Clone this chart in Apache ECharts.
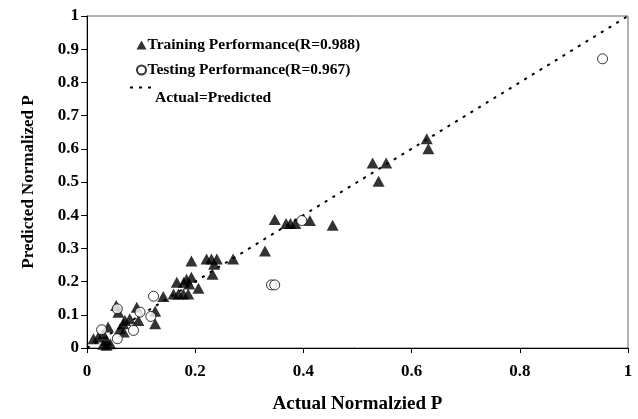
<!DOCTYPE html>
<html>
<head>
<meta charset="utf-8">
<script src="https://cdn.jsdelivr.net/npm/echarts@6/dist/echarts.min.js"></script>
<style>
  html, body { margin: 0; padding: 0; background: #fff; }
  #chart { width: 638px; height: 419px; }
</style>
</head>
<body>
<div id="chart"></div>
<script>
// 训练集 [actual, predicted]
const trainingData = [
  [0.628, 0.630], [0.631, 0.600], [0.553, 0.557], [0.528, 0.557], [0.539, 0.502],
  [0.347, 0.387], [0.368, 0.375], [0.376, 0.375], [0.385, 0.375], [0.412, 0.384],
  [0.454, 0.370], [0.329, 0.292],
  [0.270, 0.268], [0.221, 0.268], [0.230, 0.268], [0.240, 0.268], [0.235, 0.252],
  [0.232, 0.222], [0.193, 0.262], [0.206, 0.180],
  [0.193, 0.213], [0.184, 0.207], [0.179, 0.198], [0.189, 0.193], [0.166, 0.198],
  [0.160, 0.163], [0.169, 0.163], [0.178, 0.163], [0.187, 0.163], [0.141, 0.155],
  [0.126, 0.111], [0.126, 0.073], [0.095, 0.083], [0.092, 0.123], [0.079, 0.088],
  [0.070, 0.083], [0.067, 0.073], [0.058, 0.108], [0.054, 0.128], [0.068, 0.048],
  [0.061, 0.058], [0.039, 0.063],
  [0.030, 0.043], [0.021, 0.033], [0.036, 0.023], [0.043, 0.013], [0.036, 0.008],
  [0.030, 0.011], [0.012, 0.028]
];
// 测试集
const testingData = [
  [0.953, 0.871], [0.397, 0.384], [0.341, 0.190], [0.347, 0.190], [0.123, 0.156],
  [0.118, 0.095], [0.098, 0.108], [0.086, 0.053], [0.056, 0.118], [0.056, 0.028],
  [0.027, 0.055]
];
// y = x 参考线
const idealLine = [[0, 0], [1, 1]];
const seriesNames = ['Training Performance(R=0.988)', 'Testing Performance(R=0.967)', 'Actual=Predicted'];

const font = 'Liberation Serif, "Times New Roman", serif';
const legendText = { color: '#000', fontSize: 15.5, fontWeight: 'bold', fontFamily: font };
const charts = echarts.init(document.getElementById('chart'));
const option = {
  animation: false,
  grid: {
    left: 87,
    right: 10,
    top: 16,
    bottom: 68,
    show: true,
    borderColor: '#666',
    borderWidth: 1
  },
  legend: [
    {
      data: [
        { name: seriesNames[0], icon: 'triangle' },
        { name: seriesNames[1], icon: 'circle' }
      ],
      orient: 'vertical',
      left: 131,
      top: 32,
      itemWidth: 10,
      itemHeight: 9,
      itemGap: 9,
      textStyle: Object.assign({ padding: [0, 0, 0, -4] }, legendText)
    },
    {
      // 虚线图例: 线在上, 文字偏下
      data: [{ name: seriesNames[2], itemStyle: { opacity: 0 } }],
      left: 124,
      top: 77,
      itemWidth: 26,
      itemHeight: 14,
      formatter: '{a|{name}}',
      textStyle: {
        rich: { a: Object.assign({ padding: [20, 0, 0, -6] }, legendText) }
      }
    }
  ],
  xAxis: {
    type: 'value',
    min: 0,
    max: 1,
    interval: 0.2,
    name: 'Actual Normalzied P',
    nameLocation: 'middle',
    nameGap: 47,
    nameTextStyle: { color: '#000', fontSize: 19, fontWeight: 'bold', fontFamily: font },
    axisLine: { lineStyle: { color: '#000' } },
    axisTick: { show: true, length: 5, lineStyle: { color: '#000' } },
    axisLabel: { color: '#000', fontSize: 17, fontWeight: 'bold', fontFamily: font, margin: 15 },
    splitLine: { show: false }
  },
  yAxis: {
    type: 'value',
    min: 0,
    max: 1,
    interval: 0.1,
    name: 'Predicted Normalized P',
    nameLocation: 'middle',
    nameGap: 50,
    nameTextStyle: { color: '#000', fontSize: 17, fontWeight: 'bold', fontFamily: font },
    axisLine: { lineStyle: { color: '#000' } },
    axisTick: { show: true, length: 6, lineStyle: { color: '#000' } },
    axisLabel: { color: '#000', fontSize: 17, fontWeight: 'bold', fontFamily: font, margin: 8 },
    splitLine: { show: false }
  },
  series: [
    {
      name: seriesNames[2],
      type: 'line',
      data: idealLine,
      symbol: 'none',
      lineStyle: { color: '#000', width: 2, type: [3, 6] },
      itemStyle: { color: '#000' },
      z: 1
    },
    {
      name: seriesNames[0],
      type: 'scatter',
      data: trainingData,
      symbol: 'triangle',
      symbolSize: [12, 11],
      itemStyle: { color: '#000' },
      z: 2
    },
    {
      name: seriesNames[1],
      type: 'scatter',
      data: testingData,
      symbol: 'circle',
      symbolSize: 10,
      itemStyle: { color: '#fff', borderColor: '#000', borderWidth: 1 },
      z: 3
    }
  ]
};
charts.setOption(option);
</script>
</body>
</html>
